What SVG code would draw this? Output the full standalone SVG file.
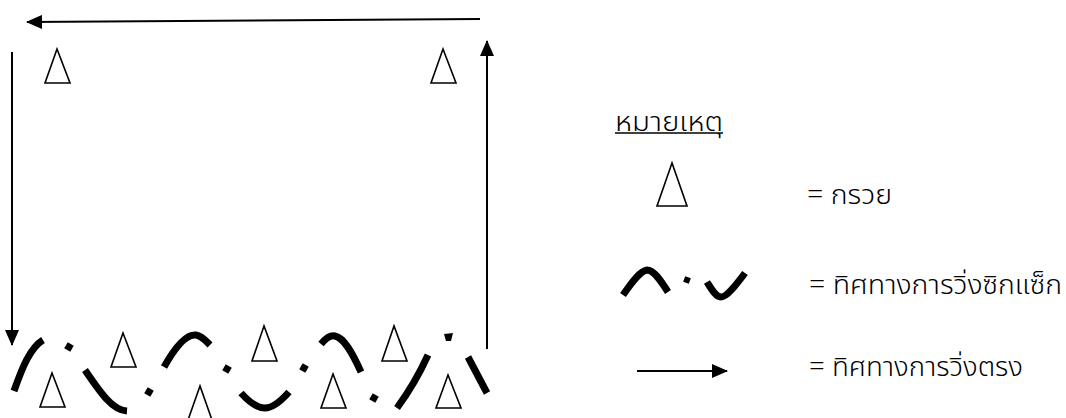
<svg xmlns="http://www.w3.org/2000/svg" width="1066" height="418" viewBox="0 0 1066 418">
<defs>
<marker id="ah" viewBox="0 0 16 14" refX="15" refY="7" markerWidth="16" markerHeight="14" markerUnits="userSpaceOnUse" orient="auto">
<path d="M0,0 L16,7 L0,14 Z" fill="#000"/>
</marker>
</defs>
<style>
.cone{fill:#fff;stroke:#000;stroke-width:1.6;stroke-linejoin:miter}
.run{fill:none;stroke:#000;stroke-width:2}
.zig{fill:none;stroke:#000;stroke-width:7}
.dot{fill:#000}
.t{font-family:"Noto Sans Thai","Noto Sans","DejaVu Sans",sans-serif;font-size:27px;font-weight:300;fill:#000}
</style>
<rect width="1066" height="418" fill="#fff"/>
<g id="connectors">
<line class="run" x1="480" y1="19" x2="27" y2="22" marker-end="url(#ah)"/>
<line class="run" x1="12" y1="52" x2="12" y2="345" marker-end="url(#ah)"/>
<line class="run" x1="487" y1="349" x2="487" y2="41" marker-end="url(#ah)"/>
</g>
<g id="cones-top">
<polygon class="cone" points="57,49 45,83 70,83"/>
<polygon class="cone" points="443,49 431,83 456,83"/>
</g>
<g id="cones-bottom">
<polygon class="cone" points="52,373 40,407 65,407"/>
<polygon class="cone" points="123,333 111,367 136,367"/>
<polygon class="cone" points="200,386 188,420 212,420"/>
<polygon class="cone" points="264,326 252,361 277,361"/>
<polygon class="cone" points="333,374 321,408 346,408"/>
<polygon class="cone" points="394,326 382,361 407,361"/>
<polygon class="cone" points="448,375 436,408 461,408"/>
</g>
<g id="zigzag">
<path class="zig" d="M14,391 C22,368 30,348 43,340"/>
<rect class="dot" x="-3.5" y="-3.5" width="7" height="7" transform="translate(69,347) rotate(30)"/>
<path class="zig" d="M85,370 C100,392 112,410 127,411"/>
<rect class="dot" x="-3.5" y="-3.5" width="7" height="7" transform="translate(149,392) rotate(30)"/>
<path class="zig" d="M164,367 C178,342 188,334 196,335 C202,336 206,341 210,345"/>
<rect class="dot" x="-3.5" y="-3.5" width="7" height="7" transform="translate(227,369) rotate(30)"/>
<path class="zig" d="M241,393 C250,403 257,408 265,408 C273,408 281,401 289,392"/>
<rect class="dot" x="-3.5" y="-3.5" width="7" height="7" transform="translate(304,368) rotate(30)"/>
<path class="zig" d="M321,344 C326,338 331,335 335,336 C344,338 352,352 361,372"/>
<rect class="dot" x="-3.5" y="-3.5" width="7" height="7" transform="translate(374,398) rotate(30)"/>
<path class="zig" d="M397,408 C408,393 418,377 428,355"/>
<path d="M444,334 L453,333 L451,341 L446,341 Z" fill="#000"/>
<path class="zig" d="M468,357 L487,393"/>
</g>
<g id="legend-title">
<text class="t" x="615" y="131" textLength="108" lengthAdjust="spacingAndGlyphs">หมายเหตุ</text>
<line x1="615" y1="133" x2="723" y2="133" stroke="#000" stroke-width="1.5"/>
</g>
<g id="legend-cone">
<polygon class="cone" points="672,163 657,206 687,206"/>
<text class="t" x="807" y="204" textLength="85" lengthAdjust="spacingAndGlyphs">= กรวย</text>
</g>
<g id="legend-zigzag">
<path class="zig" d="M623,295 C632,282 640,271 647,270 C654,270 661,281 668,292"/>
<rect class="dot" x="-3" y="-3" width="6" height="6" transform="translate(687,280) rotate(20)"/>
<path class="zig" d="M707,282 C712,290 716,297 721,297 C727,297 736,285 745,273"/>
<text class="t" x="809" y="294" textLength="253" lengthAdjust="spacingAndGlyphs">= ทิศทางการวิ่งซิกแซ็ก</text>
</g>
<g id="legend-straight">
<line class="run" x1="637" y1="371" x2="727" y2="371" marker-end="url(#ah)"/>
<text class="t" x="809" y="376" textLength="214" lengthAdjust="spacingAndGlyphs">= ทิศทางการวิ่งตรง</text>
</g>
</svg>
